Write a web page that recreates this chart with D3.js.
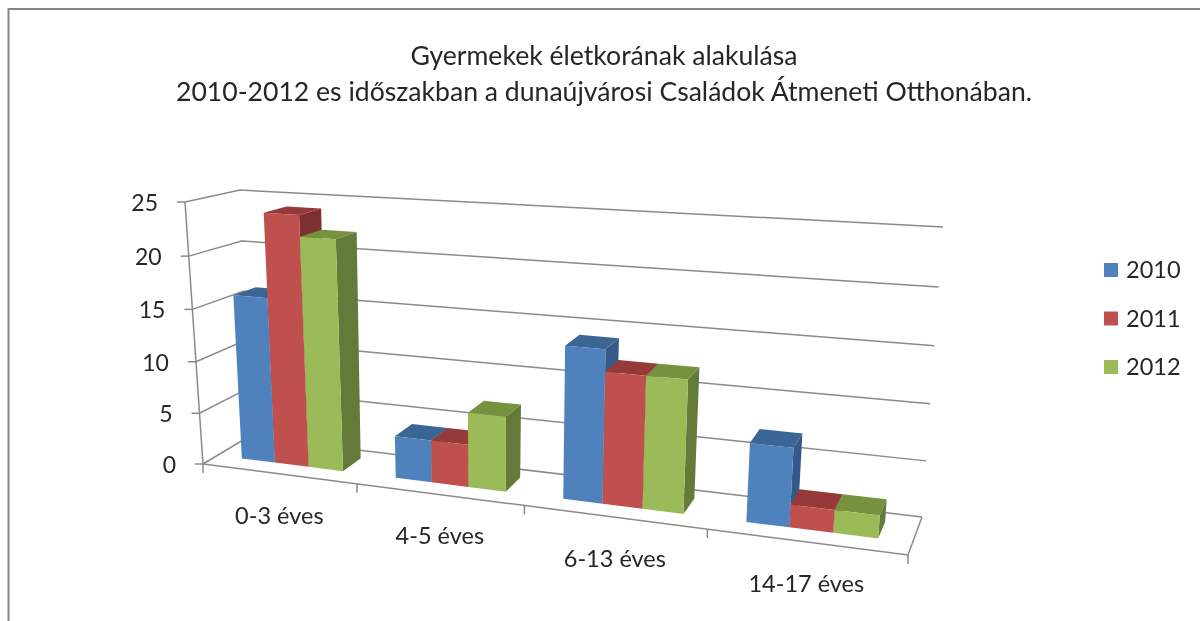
<!DOCTYPE html>
<html lang="en">
<head>
<meta charset="utf-8">
<title>Gyermekek életkorának alakulása</title>
<script src="https://cdn.jsdelivr.net/npm/d3@7"></script>
<style>
  html, body { margin: 0; padding: 0; background: #fff; }
  svg { filter: blur(0.45px); }
  text { font-family: Lato, "Noto Sans", sans-serif; fill: #262626; }
</style>
</head>
<body>
<script>
const categories = ["0-3 éves", "4-5 éves", "6-13 éves", "14-17 éves"];
const seriesNames = ["2010", "2011", "2012"];
const values2010 = [16, 4, 14, 7];
const values2011 = [24, 4, 12, 2];
const values2012 = [22, 7, 12, 2];
const yTicks = [0, 5, 10, 15, 20, 25];
const titleLines = ["Gyermekek életkorának alakulása", "2010-2012 es időszakban a dunaújvárosi Családok Átmeneti Otthonában."];

const seriesValues = [values2010, values2011, values2012];
const frontColors = ["#4f81bd", "#c0504d", "#9bbb59"];
const topColors = ["#3b6594", "#953a38", "#76923f"];
const sideColors = ["#345a8a", "#7d302e", "#647a38"];

const width = 1200, height = 621;
const svg = d3.select("body").append("svg")
    .attr("width", width).attr("height", height)
    .style("display", "block");

// chart frame, runs off the right and bottom of the picture
svg.append("path")
    .attr("d", d3.line()([[8.5, height + 5], [8.5, 9], [width + 5, 9]]))
    .attr("fill", "none").attr("stroke", "#868686").attr("stroke-width", 2);

// corners of the 3d box on screen, index is [u][v][w]
const box = [
    [[[203, 464], [185, 202]], [[248, 437], [240, 190]]],
    [[[908, 555], [930, 250]], [[922, 517], [943, 227]]]
];
const warp = (t, k) => t * k / (1 + t * (k - 1));

const xScale = d3.scaleBand().domain(categories).range([0, 1]);
const xInner = d3.scaleBand().domain(seriesNames).range([0, xScale.bandwidth()]).paddingOuter(0.75);
const zScale = d3.scaleLinear().domain([0, 1]).range([0, 1]);
const yScale = d3.scaleLinear().domain([0, 25]).range([0, 1]);

function project(u, v, val) {
    const a = warp(u, 0.838), b = warp(zScale(v), 1.05), c = warp(yScale(val), 0.96);
    const lerp = (p, q, t) => [p[0] + (q[0] - p[0]) * t, p[1] + (q[1] - p[1]) * t];
    const at = (i, j) => lerp(box[i][j][0], box[i][j][1], c);
    return lerp(lerp(at(0, 0), at(0, 1), b), lerp(at(1, 0), at(1, 1), b), a);
}
const line = d3.line();
const poly = pts => line(pts) + "Z";

const grid = svg.append("g").attr("fill", "none").attr("stroke", "#8a8a8a").attr("stroke-width", 1.5);

// gridlines on the left and back walls, with outer ticks
yTicks.forEach(t => {
    grid.append("path").attr("d", line([project(0, 0, t), project(0, 1, t), project(1, 1, t)]));
    const p = project(0, 0, t);
    grid.append("path").attr("d", line([[p[0] - 8, p[1]], p]));
    svg.append("text")
        .attr("x", p[0] - 27).attr("y", p[1] + 1)
        .attr("dy", "0.35em")
        .attr("text-anchor", "end")
        .attr("font-size", 23)
        .text(t);
});

// value axis and floor outline
grid.append("path").attr("d", line([project(0, 0, 0), project(0, 0, 25)]));
grid.append("path").attr("d", line([project(0, 0, 0), project(1, 0, 0), project(1, 1, 0)]));

// category ticks below the front edge
d3.range(categories.length + 1).forEach(i => {
    const p = project(i / categories.length, 0, 0);
    grid.append("path").attr("d", line([p, [p[0], p[1] + 9]]));
});

// bars
const v0 = 0.31, v1 = 0.76;
categories.forEach((cat, i) => {
    seriesNames.forEach((name, s) => {
        const val = seriesValues[s][i];
        const u0 = xScale(cat) + xInner(name), u1 = u0 + xInner.bandwidth();
        const g = svg.append("g");
        g.append("path").attr("fill", sideColors[s])
            .attr("d", poly([project(u1, v0, 0), project(u1, v1, 0), project(u1, v1, val), project(u1, v0, val)]));
        g.append("path").attr("fill", topColors[s])
            .attr("d", poly([project(u0, v0, val), project(u1, v0, val), project(u1, v1, val), project(u0, v1, val)]));
        g.append("path").attr("fill", frontColors[s])
            .attr("d", poly([project(u0, v0, 0), project(u1, v0, 0), project(u1, v0, val), project(u0, v0, val)]));
    });
    const c = project(xScale(cat) + xScale.bandwidth() / 2, 0, 0);
    svg.append("text")
        .attr("x", c[0] + 1).attr("y", c[1] + 50)
        .attr("text-anchor", "middle")
        .attr("font-size", 23.5)
        .text(cat);
});

// title
svg.append("g").selectAll("text").data(titleLines).enter().append("text")
    .attr("x", 604)
    .attr("y", (d, i) => 65 + i * 36)
    .attr("text-anchor", "middle")
    .attr("font-size", 26.6)
    .text(d => d);

// legend
const legendY = d3.scalePoint().domain(seriesNames).range([270, 367]);
seriesNames.forEach((name, s) => {
    svg.append("rect")
        .attr("x", 1104).attr("y", legendY(name) - 7)
        .attr("width", 14).attr("height", 14)
        .attr("fill", frontColors[s]);
    svg.append("text")
        .attr("x", 1126).attr("y", legendY(name))
        .attr("dy", "0.36em")
        .attr("font-size", 23.5)
        .text(name);
});
</script>
</body>
</html>
